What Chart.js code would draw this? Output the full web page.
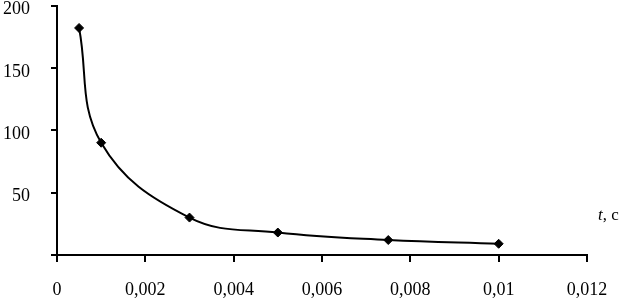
<!DOCTYPE html>
<html>
<head>
<meta charset="utf-8">
<script src="https://cdn.jsdelivr.net/npm/chart.js@4/dist/chart.umd.min.js"></script>
<style>
    html, body { margin: 0; padding: 0; background: #fff; }
    #wrap { width: 620px; height: 300px; }
</style>
</head>
<body>
<div id="wrap"><canvas id="decayChart" width="620" height="300"></canvas></div>
<script>
// time, s
const timeValues = [0.0005, 0.001, 0.003, 0.005, 0.0075, 0.01];
// measured values
const seriesValues = [182, 90, 30, 18, 12, 9];
const xTicks = [0, 0.002, 0.004, 0.006, 0.008, 0.01, 0.012];
const yTicks = [0, 50, 100, 150, 200];
const axisTitle = ['t', ', c'];

const serif = "'Liberation Serif', 'Times New Roman', serif";

// axis caption "t, c" to the right of the x axis
const axisCaption = {
    id: 'axisCaption',
    afterDraw(chart) {
        const ctx = chart.ctx;
        const area = chart.chartArea;
        ctx.save();
        ctx.fillStyle = '#000';
        ctx.textBaseline = 'alphabetic';
        let x = area.right + 11;
        const y = area.bottom - 35;
        ctx.font = 'italic 17px ' + serif;
        ctx.fillText(axisTitle[0], x, y);
        x += ctx.measureText(axisTitle[0]).width;
        ctx.font = '17px ' + serif;
        ctx.fillText(axisTitle[1], x, y);
        ctx.restore();
    }
};

const ctx = document.getElementById('decayChart').getContext('2d');

new Chart(ctx, {
    type: 'scatter',
    data: {
        datasets: [{
            data: timeValues.map((t, i) => ({ x: t, y: seriesValues[i] })),
            showLine: true,
            borderColor: '#000',
            borderWidth: 2,
            tension: 0.4,
            pointStyle: 'rectRot',
            pointRadius: 4.5,
            pointBackgroundColor: '#000',
            pointBorderColor: '#000',
            pointBorderWidth: 1
        }]
    },
    options: {
        responsive: false,
        animation: false,
        layout: {
            padding: { top: 4, right: 33, left: 0, bottom: 0 }
        },
        plugins: {
            legend: { display: false },
            tooltip: { enabled: false }
        },
        scales: {
            x: {
                type: 'linear',
                min: xTicks[0],
                max: xTicks[xTicks.length - 1],
                afterBuildTicks: axis => { axis.ticks = xTicks.map(v => ({ value: v })); },
                afterFit: axis => { axis.height = 45; axis.paddingLeft = 0; axis.paddingRight = 0; },
                border: { display: true, color: '#000', width: 2 },
                grid: { display: true, drawOnChartArea: false, drawTicks: true, tickLength: 7, color: '#000', lineWidth: 2 },
                ticks: {
                    color: '#000',
                    padding: 17,
                    maxRotation: 0,
                    font: { family: serif, size: 18 },
                    callback: v => parseFloat(v.toFixed(3)).toString().replace('.', ',')
                }
            },
            y: {
                type: 'linear',
                min: yTicks[0],
                max: yTicks[yTicks.length - 1],
                afterBuildTicks: axis => { axis.ticks = yTicks.map(v => ({ value: v })); },
                afterFit: axis => { axis.width = 57; axis.paddingTop = 0; axis.paddingBottom = 0; },
                border: { display: true, color: '#000', width: 2 },
                grid: { display: true, drawOnChartArea: false, drawTicks: true, tickLength: 6, color: '#000', lineWidth: 2 },
                ticks: {
                    color: '#000',
                    padding: 21,
                    labelOffset: 4,
                    font: { family: serif, size: 18 },
                    callback: v => (v === 0 ? '' : String(v))
                }
            }
        }
    },
    plugins: [axisCaption]
});
</script>
</body>
</html>
